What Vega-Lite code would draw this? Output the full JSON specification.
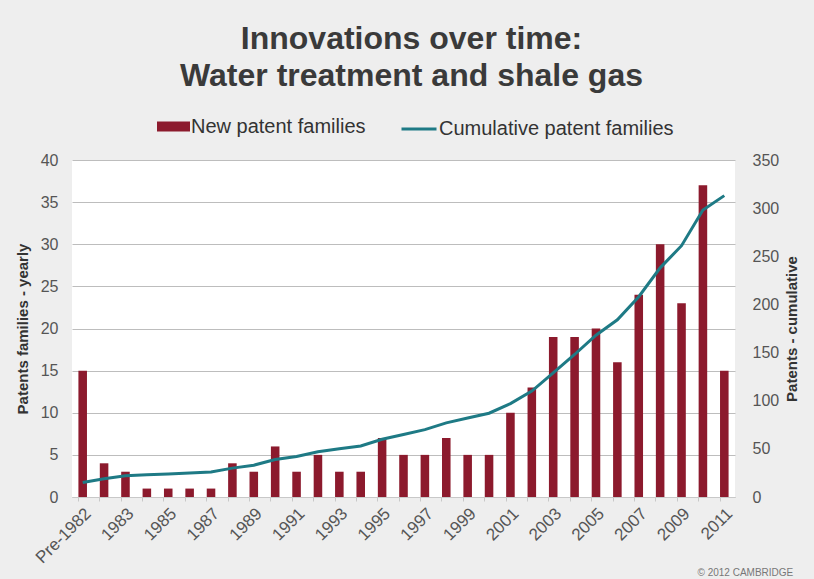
{
  "$schema": "https://vega.github.io/schema/vega-lite/v6.json",
  "width": 663,
  "height": 337,
  "autosize": {"type": "none"},
  "padding": {"left": 72, "top": 160, "right": 79, "bottom": 82},
  "background": "#eeeeee",
  "config": {"view": {"fill": "white", "stroke": null}, "font": "Liberation Sans"},
  "title": {
    "text": ["Innovations over time:", "Water treatment and shale gas"],
    "font": "Liberation Sans",
    "fontSize": 32,
    "fontWeight": "bold",
    "color": "#3a3a3a",
    "anchor": "middle",
    "lineHeight": 37,
    "offset": 17,
    "dx": 8
  },
  "data": {
    "values": [
      {"year": "Pre-1982", "new": 15, "cumulative": 15},
      {"year": "1982", "new": 4, "cumulative": 19},
      {"year": "1983", "new": 3, "cumulative": 22},
      {"year": "1984", "new": 1, "cumulative": 23},
      {"year": "1985", "new": 1, "cumulative": 24},
      {"year": "1986", "new": 1, "cumulative": 25},
      {"year": "1987", "new": 1, "cumulative": 26},
      {"year": "1988", "new": 4, "cumulative": 30},
      {"year": "1989", "new": 3, "cumulative": 33},
      {"year": "1990", "new": 6, "cumulative": 39},
      {"year": "1991", "new": 3, "cumulative": 42},
      {"year": "1992", "new": 5, "cumulative": 47},
      {"year": "1993", "new": 3, "cumulative": 50},
      {"year": "1994", "new": 3, "cumulative": 53},
      {"year": "1995", "new": 7, "cumulative": 60},
      {"year": "1996", "new": 5, "cumulative": 65},
      {"year": "1997", "new": 5, "cumulative": 70},
      {"year": "1998", "new": 7, "cumulative": 77},
      {"year": "1999", "new": 5, "cumulative": 82},
      {"year": "2000", "new": 5, "cumulative": 87},
      {"year": "2001", "new": 10, "cumulative": 97},
      {"year": "2002", "new": 13, "cumulative": 110},
      {"year": "2003", "new": 19, "cumulative": 129},
      {"year": "2004", "new": 19, "cumulative": 148},
      {"year": "2005", "new": 20, "cumulative": 168},
      {"year": "2006", "new": 16, "cumulative": 184},
      {"year": "2007", "new": 24, "cumulative": 208},
      {"year": "2008", "new": 30, "cumulative": 238},
      {"year": "2009", "new": 23, "cumulative": 261},
      {"year": "2010", "new": 37, "cumulative": 298},
      {"year": "2011", "new": 15, "cumulative": 313}
    ]
  },
  "encoding": {
    "x": {
      "field": "year",
      "type": "ordinal",
      "sort": null,
      "scale": {"paddingInner": 0.6, "paddingOuter": 0.3},
      "axis": {
        "labelExpr": "datum.label == 'Pre-1982' || toNumber(datum.label) % 2 == 1 ? datum.label : ''",
        "labelAngle": -45,
        "labelFontSize": 17,
        "labelColor": "#555555",
        "labelPadding": 4,
        "domainColor": "#c8c8c8",
        "tickColor": "#c8c8c8",
        "tickSize": 4,
        "bandPosition": 0,
        "title": "© 2012 CAMBRIDGE",
        "titleFontSize": 10,
        "titleFontWeight": "normal",
        "titleColor": "#777777",
        "titleAlign": "left",
        "titleAnchor": "start",
        "titleBaseline": "bottom",
        "titleX": 625,
        "titleY": 80
      }
    }
  },
  "layer": [
    {
      "mark": {"type": "bar"},
      "encoding": {
        "y": {
          "field": "new",
          "type": "quantitative",
          "scale": {"domain": [0, 40]},
          "axis": {
            "title": "Patents families - yearly",
            "titleFontSize": 15,
            "titleFontWeight": "bold",
            "titleColor": "#333333",
            "titlePadding": 10,
            "values": [0, 5, 10, 15, 20, 25, 30, 35, 40],
            "labelFontSize": 16,
            "labelColor": "#555555",
            "labelPadding": 14,
            "domain": false,
            "ticks": false,
            "gridColor": "#bdbdbd",
            "gridWidth": 1
          }
        },
        "fill": {
          "datum": "New patent families",
          "scale": {"range": ["#8c1a2d"]},
          "legend": {
            "title": null,
            "orient": "none",
            "legendX": 85,
            "legendY": -50,
            "symbolType": "M-1,-0.3H1V0.3H-1Z",
            "symbolSize": 1089,
            "symbolStrokeWidth": 0,
            "labelFontSize": 20,
            "labelColor": "#333333",
            "labelOffset": 1,
            "labelLimit": 400
          }
        }
      }
    },
    {
      "mark": {"type": "line", "strokeWidth": 3},
      "encoding": {
        "y": {
          "field": "cumulative",
          "type": "quantitative",
          "scale": {"domain": [0, 350]},
          "axis": {
            "orient": "right",
            "title": "Patents - cumulative",
            "titleFontSize": 15,
            "titleFontWeight": "bold",
            "titleColor": "#333333",
            "titlePadding": 6,
            "titleAngle": 270,
            "titleBaseline": "top",
            "values": [0, 50, 100, 150, 200, 250, 300, 350],
            "labelFontSize": 16,
            "labelColor": "#555555",
            "labelPadding": 17,
            "domain": false,
            "ticks": false,
            "grid": false
          }
        },
        "stroke": {
          "datum": "Cumulative patent families",
          "scale": {"range": ["#1e7a85"]},
          "legend": {
            "title": null,
            "orient": "none",
            "legendX": 328,
            "legendY": -50,
            "symbolType": "stroke",
            "symbolSize": 1225,
            "symbolStrokeWidth": 3,
            "labelFontSize": 20,
            "labelColor": "#333333",
            "labelOffset": 1,
            "labelLimit": 400
          }
        }
      }
    }
  ],
  "resolve": {"scale": {"y": "independent"}}
}
